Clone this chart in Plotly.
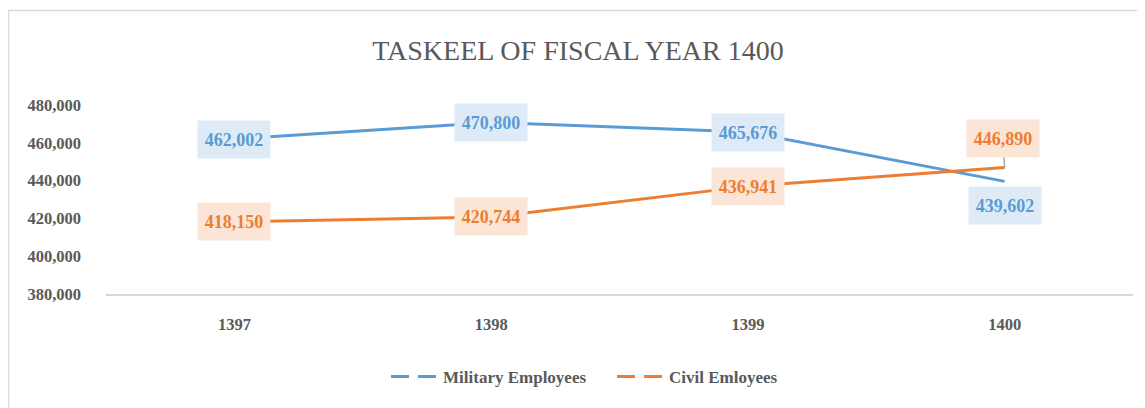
import plotly.graph_objects as go

years = ["1397", "1398", "1399", "1400"]
military = [462002, 470800, 465676, 439602]
civil = [418150, 420744, 436941, 446890]
y_ticks = [380000, 400000, 420000, 440000, 460000, 480000]

BLUE = "#5B9BD5"
ORANGE = "#ED7D31"
BLUE_BG = "#DEEBF7"
ORANGE_BG = "#FBE5D6"
GREY = "#595959"
SERIF = "Liberation Serif"

W, H = 1145, 408
L, R, T, B = 98, 20, 97, 122
PW, PH = W - L - R, H - T - B

fig = go.Figure()
fig.add_trace(go.Scatter(x=years, y=military, mode="lines", name="Military Employees",
                         line=dict(color=BLUE, width=3), showlegend=False))
fig.add_trace(go.Scatter(x=years, y=civil, mode="lines", name="Civil Emloyees",
                         line=dict(color=ORANGE, width=3), showlegend=False))
# legend entries (dashed symbols as in reference)
fig.add_trace(go.Scatter(x=[None], y=[None], mode="lines", name="Military Employees",
                         line=dict(color=BLUE, width=3, dash="18px,9px")))
fig.add_trace(go.Scatter(x=[None], y=[None], mode="lines", name="Civil Emloyees",
                         line=dict(color=ORANGE, width=3, dash="18px,9px")))

annotations = []
last = len(years) - 1
for i, (m, c) in enumerate(zip(military, civil)):
    mf = dict(family=SERIF, size=18, color=BLUE, weight="bold")
    cf = dict(family=SERIF, size=18, color=ORANGE, weight="bold")
    if i < last:
        annotations.append(dict(x=i, y=m, text=f"{m:,}", showarrow=False, font=mf,
                                bgcolor=BLUE_BG, width=72, height=37, borderpad=0))
        annotations.append(dict(x=i, y=c, text=f"{c:,}", showarrow=False, font=cf,
                                bgcolor=ORANGE_BG, width=72, height=37, borderpad=0))
    else:
        annotations.append(dict(x=i, y=m, text=f"{m:,}", showarrow=False, font=mf,
                                bgcolor=BLUE_BG, width=72, height=37, borderpad=0, yshift=-24))
        annotations.append(dict(x=i, y=c, text=f"{c:,}", showarrow=True, ax=-2, ay=-29,
                                arrowhead=0, arrowcolor="#A6A6A6", arrowwidth=1.5, standoff=0,
                                font=cf, bgcolor=ORANGE_BG, width=72, height=37, borderpad=0))

fig.update_layout(
    width=W, height=H, autosize=False,
    margin=dict(l=L, r=R, t=T, b=B, autoexpand=False),
    paper_bgcolor="white", plot_bgcolor="white",
    title=dict(text="TASKEEL OF FISCAL YEAR 1400", x=570 / W, xref="container", xanchor="center",
               y=1 - 42 / H, yref="container", yanchor="middle",
               font=dict(family=SERIF, size=28, color=GREY)),
    xaxis=dict(type="category", range=[-0.5, 3.5], showgrid=False, zeroline=False,
               showline=True, linecolor="#D9D9D9", linewidth=1.5, automargin=False,
               ticks="", ticklabelstandoff=14,
               tickfont=dict(family=SERIF, size=16.5, color=GREY, weight="bold")),
    yaxis=dict(range=[380000, 480000], tickvals=y_ticks, tickformat=",", automargin=False,
               showgrid=False, zeroline=False, showline=False, ticks="",
               ticklabelstandoff=24,
               tickfont=dict(family=SERIF, size=16.5, color=GREY, weight="bold")),
    legend=dict(orientation="h", x=(378 - L) / PW, xanchor="left",
                y=(H - B - 369) / PH, yanchor="middle", entrywidth=164, itemwidth=47,
                font=dict(family=SERIF, size=17, color=GREY, weight="bold")),
    annotations=annotations,
    shapes=[dict(type="rect", xref="paper", yref="paper",
                 x0=(0.5 - L) / PW, x1=(W + 20 - L) / PW,
                 y0=(H - B - (H + 20)) / PH, y1=(H - B - 2.5) / PH,
                 line=dict(color="#D9D9D9", width=1.5), fillcolor="rgba(0,0,0,0)", layer="below")],
)

fig.write_html("out.html")
